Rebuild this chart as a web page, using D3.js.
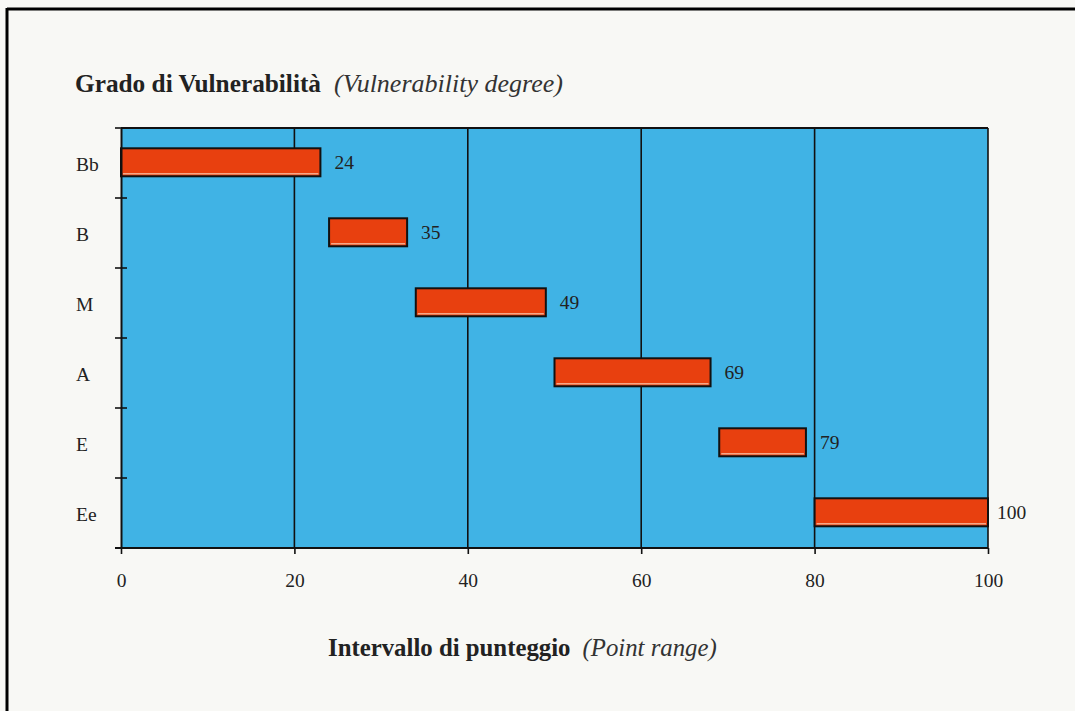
<!DOCTYPE html>
<html>
<head>
<meta charset="utf-8">
<script src="https://cdn.jsdelivr.net/npm/d3@7"></script>
<style>
  html, body { margin: 0; padding: 0; background: #f8f8f5; }
  svg { display: block; }
  text { font-family: "Liberation Serif", "DejaVu Serif", serif; fill: #222; }
</style>
</head>
<body>
<svg id="chart" width="1075" height="711"></svg>
<script>
const categories = ["Bb", "B", "M", "A", "E", "Ee"];
const rangeStart = [0, 24, 34, 50, 69, 80];
const rangeEnd = [23, 33, 49, 68, 79, 100];
const valueLabels = ["24", "35", "49", "69", "79", "100"];
const xTicks = [0, 20, 40, 60, 80, 100];

const svg = d3.select("#chart");
const W = 1075, H = 711;
const m = { left: 121, right: 988, top: 128, bottom: 548 };

svg.append("rect").attr("width", W).attr("height", H).attr("fill", "#f8f8f5");
// page frame
svg.append("line").attr("x1", 7).attr("x2", W).attr("y1", 9).attr("y2", 9)
  .attr("stroke", "#000").attr("stroke-width", 3);
svg.append("line").attr("x1", 7).attr("x2", 7).attr("y1", 8).attr("y2", H)
  .attr("stroke", "#000").attr("stroke-width", 3);

const x = d3.scaleLinear().domain([0, 100]).range([m.left, m.right]);
const y = d3.scaleBand().domain(categories).range([m.top, m.bottom]).padding(0);

// plot background
svg.append("rect").attr("x", x(0)).attr("y", m.top)
  .attr("width", x(100) - x(0)).attr("height", m.bottom - m.top)
  .attr("fill", "#40b3e5");

// vertical grid lines
svg.append("g").selectAll("line").data(xTicks.filter(d => d > 0)).join("line")
  .attr("x1", d => x(d)).attr("x2", d => x(d))
  .attr("y1", m.top).attr("y2", m.bottom)
  .attr("stroke", "#111").attr("stroke-width", 1.6);

// top border
svg.append("line").attr("x1", x(0)).attr("x2", x(100)).attr("y1", m.top).attr("y2", m.top)
  .attr("stroke", "#111").attr("stroke-width", 2);

// bars
const bw = y.bandwidth();
const bars = svg.append("g").selectAll("g").data(categories).join("g");
bars.append("rect")
  .attr("x", (d, i) => x(rangeStart[i]))
  .attr("y", d => y(d) + bw * 0.29)
  .attr("width", (d, i) => x(rangeEnd[i]) - x(rangeStart[i]))
  .attr("height", bw * 0.4)
  .attr("fill", "#e8400f")
  .attr("stroke", "#111").attr("stroke-width", 2);
bars.append("line")
  .attr("x1", (d, i) => x(rangeStart[i]) + 2)
  .attr("x2", (d, i) => x(rangeEnd[i]) - 2)
  .attr("y1", d => y(d) + bw * 0.69 - 2.5)
  .attr("y2", d => y(d) + bw * 0.69 - 2.5)
  .attr("stroke", "#f3a88a").attr("stroke-width", 1.5);
bars.append("text")
  .attr("x", (d, i) => x(rangeEnd[i]) + (i === 5 ? 9 : 14))
  .attr("y", d => y(d) + bw * 0.49 + 7)
  .attr("font-size", 19.5)
  .attr("fill", "#333")
  .text((d, i) => valueLabels[i]);

// y axis
const yAxis = d3.axisLeft(y).tickSize(0).tickPadding(0).tickFormat(() => "");
svg.append("g").attr("transform", `translate(${x(0)},0)`).call(yAxis)
  .call(g => g.select(".domain").attr("stroke", "#111").attr("stroke-width", 2));
// y tick marks at band boundaries
const boundaries = categories.map(c => y(c)).concat([m.bottom]);
svg.append("g").selectAll("line").data(boundaries).join("line")
  .attr("x1", x(0) - 6).attr("x2", x(0) + 6)
  .attr("y1", d => d).attr("y2", d => d)
  .attr("stroke", "#111").attr("stroke-width", 1.6);
// y labels
svg.append("g").selectAll("text").data(categories).join("text")
  .attr("x", 76)
  .attr("y", d => y(d) + bw / 2 + 8)
  .attr("font-size", 19.5)
  .attr("fill", "#333")
  .text(d => d);

// x axis
const xAxis = d3.axisBottom(x).tickValues(xTicks).tickSize(6).tickPadding(19);
svg.append("g").attr("transform", `translate(0,${m.bottom})`).call(xAxis)
  .call(g => g.select(".domain").remove())
  .call(g => g.selectAll(".tick line").attr("stroke", "#111").attr("stroke-width", 1.6))
  .call(g => g.selectAll(".tick text")
    .attr("font-family", "Liberation Serif, DejaVu Serif, serif")
    .attr("font-size", 19.5).attr("fill", "#333"));
svg.append("line").attr("x1", x(0) - 6).attr("x2", x(100)).attr("y1", m.bottom).attr("y2", m.bottom)
  .attr("stroke", "#111").attr("stroke-width", 2);

// titles
const t1 = svg.append("text").attr("x", 75).attr("y", 92);
t1.append("tspan").attr("font-weight", "bold").attr("font-size", 25.3).text("Grado di Vulnerabilità");
t1.append("tspan").attr("font-style", "italic").attr("font-size", 26).attr("dx", 13).attr("fill", "#333").text("(Vulnerability degree)");

const t2 = svg.append("text").attr("x", 328).attr("y", 656).attr("font-size", 24.8);
t2.append("tspan").attr("font-weight", "bold").text("Intervallo di punteggio");
t2.append("tspan").attr("font-style", "italic").attr("dx", 12).attr("fill", "#333").text("(Point range)");
</script>
</body>
</html>
